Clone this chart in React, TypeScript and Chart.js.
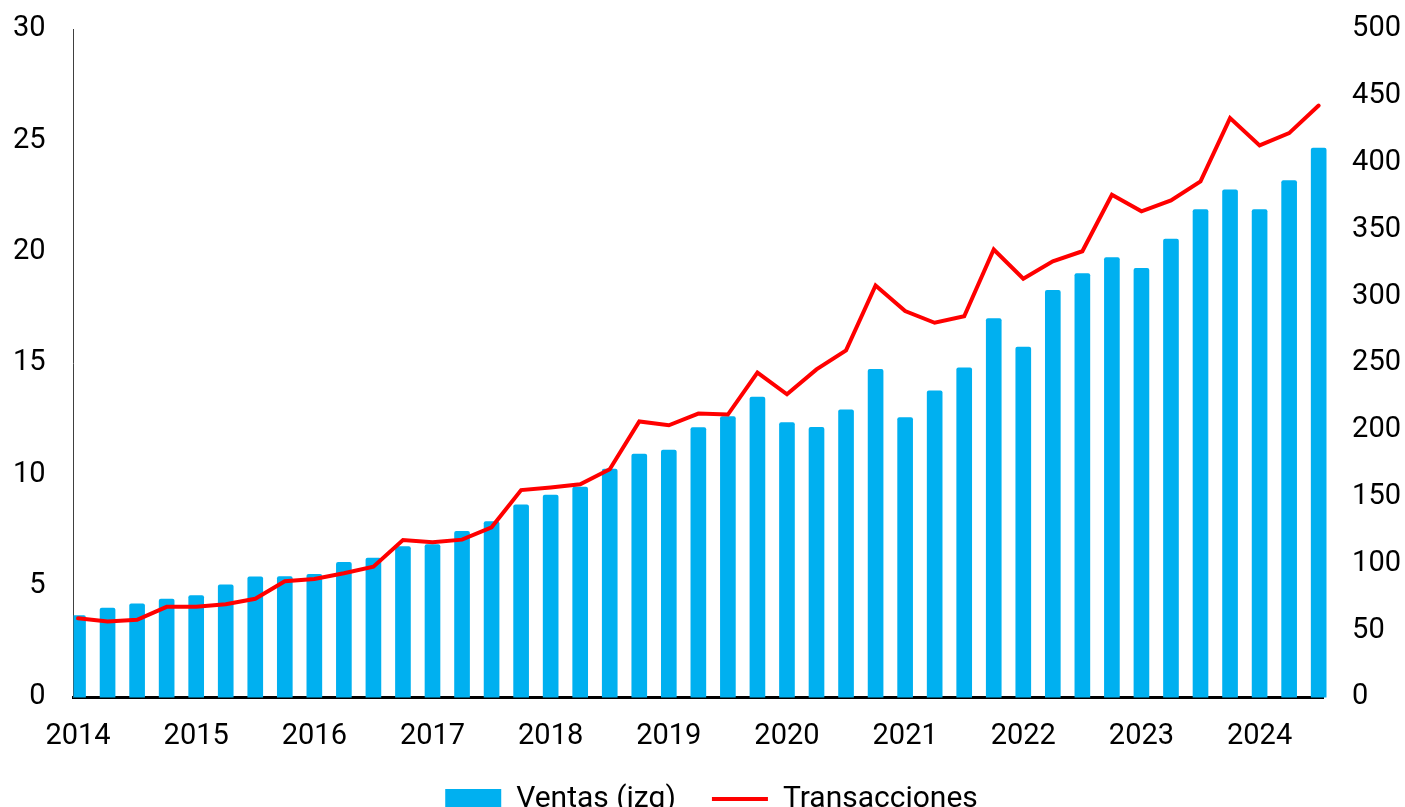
import React, { useEffect, useRef } from 'react';
import { Chart, registerables } from 'chart.js';

Chart.register(...registerables);

const quarters = [
  '2014 T1', '2014 T2', '2014 T3', '2014 T4',
  '2015 T1', '2015 T2', '2015 T3', '2015 T4',
  '2016 T1', '2016 T2', '2016 T3', '2016 T4',
  '2017 T1', '2017 T2', '2017 T3', '2017 T4',
  '2018 T1', '2018 T2', '2018 T3', '2018 T4',
  '2019 T1', '2019 T2', '2019 T3', '2019 T4',
  '2020 T1', '2020 T2', '2020 T3', '2020 T4',
  '2021 T1', '2021 T2', '2021 T3', '2021 T4',
  '2022 T1', '2022 T2', '2022 T3', '2022 T4',
  '2023 T1', '2023 T2', '2023 T3', '2023 T4',
  '2024 T1', '2024 T2', '2024 T3',
];

const yearLabels = ['2014', '2015', '2016', '2017', '2018', '2019', '2020', '2021', '2022', '2023', '2024'];

const ventas = [
  3.66, 4.0, 4.19, 4.41, 4.56, 5.04, 5.4, 5.41, 5.52, 6.06, 6.25, 6.76,
  6.85, 7.45, 7.88, 8.64, 9.07, 9.43, 10.24, 10.92, 11.09, 12.1, 12.6, 13.48,
  12.33, 12.12, 12.9, 14.72, 12.55, 13.75, 14.79, 17.0, 15.72, 18.27, 19.02, 19.74,
  19.26, 20.57, 21.89, 22.78, 21.89, 23.2, 24.65,
];

const transacciones = [
  59, 56.6, 57.9, 67.6, 67.6, 69.6, 73.6, 86.8, 88.5, 92.7, 97.7, 117.6,
  115.9, 117.9, 127.1, 155, 157, 159.4, 170.6, 206.3, 203.5, 212.2, 211.5, 242.9,
  226.7, 245.3, 259.5, 308.1, 288.9, 280.2, 285.1, 335, 313.1, 326.2, 333.7, 376,
  363.6, 371.8, 386, 433.3, 412.9, 422.1, 442.7,
];

const leftTicks = { min: 0, max: 30, step: 5 };
const rightTicks = { min: 0, max: 500, step: 50 };

const legendShift = { x: 4, y: -28 };

export default function App() {
  const canvasRef = useRef<HTMLCanvasElement | null>(null);

  useEffect(() => {
    document.body.style.margin = '0';
    document.body.style.overflow = 'hidden';
    const canvas = canvasRef.current;
    if (!canvas) return;
    const tickFont = { family: 'Roboto', size: 29 };
    const legendFont = { family: 'Roboto', size: 30 };

    const legendMover = {
      id: 'legendMover',
      afterLayout(chart: any) {
        const lg = chart.legend;
        if (!lg) return;
        lg.top += legendShift.y;
        lg.bottom += legendShift.y;
        lg.left += legendShift.x;
        lg.right += legendShift.x;
      },
    };

    const noVerticalPadding = (scale: any) => {
      scale.paddingTop = 0;
      scale.paddingBottom = 0;
    };

    const chart = new Chart(canvas, {
      type: 'bar',
      data: {
        datasets: [
          {
            type: 'bar',
            label: 'Ventas (izq)',
            data: ventas.map((v, i) => ({ x: i, y: v })),
            backgroundColor: '#00B0F0',
            borderWidth: 0,
            barThickness: 15,
            borderRadius: 2,
            yAxisID: 'y',
            order: 1,
            clip: { left: 0, top: 0, right: 4, bottom: 3 } as any,
          },
          {
            type: 'line',
            label: 'Transacciones',
            data: transacciones.map((v, i) => ({ x: i, y: v })),
            borderColor: '#FF0000',
            backgroundColor: '#FF0000',
            borderWidth: 4,
            pointRadius: 0,
            tension: 0,
            borderCapStyle: 'round',
            yAxisID: 'y1',
            order: 0,
          },
        ],
      } as any,
      options: {
        animation: false,
        responsive: true,
        maintainAspectRatio: false,
        layout: { padding: { top: 29, left: -15, right: -25, bottom: -45 } },
        scales: {
          x: {
            type: 'linear',
            min: -0.15,
            max: 42.15,
            offset: false,
            z: 1,
            grid: { display: false, drawTicks: false, offset: false },
            border: { display: true, color: '#000', width: 3 },
            afterBuildTicks: (scale: any) => {
              scale.ticks = yearLabels.map((_, i) => ({ value: i * 4 }));
            },
            ticks: {
              padding: 22,
              font: tickFont,
              color: '#000',
              autoSkip: false,
              maxRotation: 0,
              callback: (_v: any, idx: number) => yearLabels[idx],
            },
          },
          y: {
            position: 'left',
            min: leftTicks.min,
            max: leftTicks.max,
            afterFit: noVerticalPadding,
            grid: { display: false, drawTicks: false },
            border: { display: true, color: '#404040', width: 1 },
            ticks: { stepSize: leftTicks.step, padding: 28, font: tickFont, color: '#000' },
          },
          y1: {
            position: 'right',
            min: rightTicks.min,
            max: rightTicks.max,
            afterFit: noVerticalPadding,
            grid: { display: false, drawTicks: false },
            border: { display: false },
            ticks: { stepSize: rightTicks.step, padding: 29, font: tickFont, color: '#000' },
          },
        },
        plugins: {
          legend: {
            position: 'bottom',
            labels: {
              usePointStyle: true,
              pointStyleWidth: 56,
              boxHeight: 20,
              padding: 36,
              font: legendFont,
              color: '#000',
              sort: (a: any, b: any) => a.datasetIndex - b.datasetIndex,
              generateLabels: (ch: any) => {
                const items = Chart.defaults.plugins.legend.labels.generateLabels(ch);
                items.forEach((it: any) => {
                  it.pointStyle = it.datasetIndex === 0 ? 'rect' : 'line';
                  if (it.datasetIndex === 1) {
                    it.strokeStyle = '#FF0000';
                    it.lineWidth = 4;
                  }
                });
                return items;
              },
            },
          },
          tooltip: {
            callbacks: {
              title: (items: any[]) => (items.length ? quarters[items[0].dataIndex] : ''),
            },
          },
        },
      } as any,
      plugins: [legendMover],
    });

    return () => chart.destroy();
  }, []);

  return (
    <div style={{ width: '1405px', height: '807px', position: 'relative' }}>
      <canvas ref={canvasRef} />
    </div>
  );
}
